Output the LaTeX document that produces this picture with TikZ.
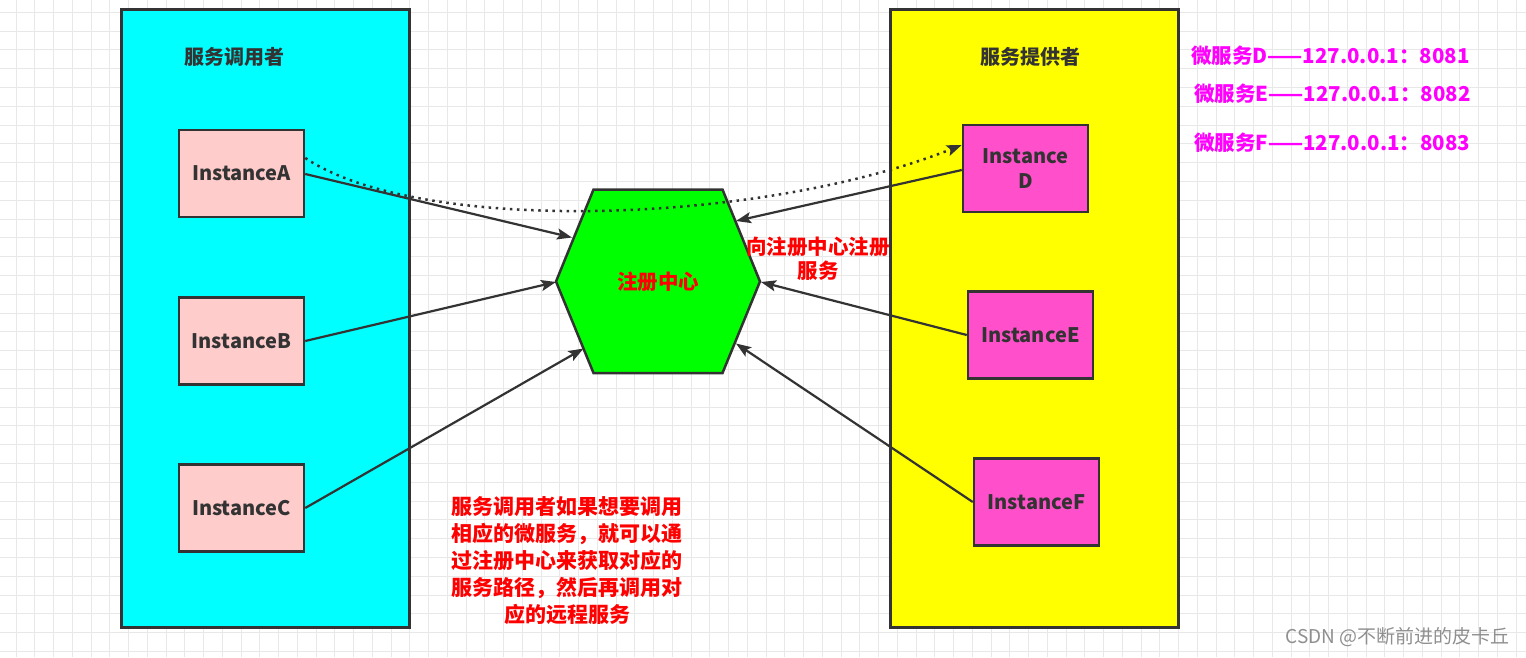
\documentclass[tikz,border=0pt]{standalone}
\usepackage{fontspec}
\setmainfont{Noto Sans CJK SC}
\usetikzlibrary{arrows.meta}
\definecolor{edgec}{HTML}{333333}
\definecolor{gridc}{HTML}{E8E8E8}
\definecolor{cyanc}{HTML}{00FFFF}
\definecolor{yellowc}{HTML}{FFFF00}
\definecolor{pinkc}{HTML}{FFCCCC}
\definecolor{magc}{HTML}{FF4FCB}
\definecolor{greenc}{HTML}{00FF00}
\definecolor{redc}{HTML}{FF0000}
\definecolor{purpc}{HTML}{FF00FF}
\definecolor{wmc}{HTML}{8F8F8F}
\begin{document}
\begin{tikzpicture}[x=1pt,y=-1pt,
  group/.style={draw=edgec,line width=2.5pt,anchor=north west,inner sep=0pt},
  inst/.style={draw=edgec,line width=2.5pt,minimum width=125pt,minimum height=87pt,inner sep=0pt,
    font=\fontsize{20}{25}\selectfont\bfseries,text=edgec,align=center},
  title/.style={font=\fontsize{20}{24}\selectfont\bfseries,text=edgec},
  redtxt/.style={font=\fontsize{20.5}{24}\selectfont\bfseries,text=redc,align=center},
  addr/.style={font=\fontsize{20.5}{24}\selectfont\bfseries,text=purpc,anchor=west,inner sep=0pt},
  conn/.style={draw=edgec,line width=2.2pt,-{Stealth[length=15pt,width=11pt,inset=3pt]}}
]
\useasboundingbox (0,0) rectangle (1526,657);
\fill[white] (0,0) rectangle (1526,657);
\foreach \i in {0,...,81} \draw[gridc,line width=1pt] ({16+18.75*\i},0) -- ++(0,657);
\foreach \j in {0,...,34} \draw[gridc,line width=1pt] (0,{12.3+18.8*\j}) -- ++(1526,0);

% groups
\node[group,fill=cyanc,minimum width=288pt,minimum height=618pt] (L) at (120,8) {};
\node[group,fill=yellowc,minimum width=288pt,minimum height=618pt] (R) at (889,8) {};
\node[title] (Lt) at (234,57) {服务调用者};
\node[title] (Rt) at (1030,57) {服务提供者};

% instances
\node[inst,fill=pinkc] (A) at (241.5,173.5) {InstanceA};
\node[inst,fill=pinkc] (B) at (241.5,341) {InstanceB};
\node[inst,fill=pinkc] (C) at (241.5,508) {InstanceC};
\node[inst,fill=magc] (D) at (1025.5,168.5) {Instance\\D};
\node[inst,fill=magc] (E) at (1030.5,335) {InstanceE};
\node[inst,fill=magc] (F) at (1036.5,502) {InstanceF};

% hexagon
\coordinate (h1) at (593.5,189.5);
\coordinate (h2) at (722.5,189.5);
\coordinate (h3) at (760,281.5);
\coordinate (h4) at (722.5,373);
\coordinate (h5) at (593.5,373);
\coordinate (h6) at (556,281.5);
\draw[draw=edgec,fill=greenc,line width=2.5pt,line join=miter] (h1)--(h2)--(h3)--(h4)--(h5)--(h6)--cycle;
\node[redtxt] (H) at (658,282) {注册中心};

% arrow end points on hexagon
\coordinate (ea) at (572,237.5);
\coordinate (eb) at (556,282);
\coordinate (ec) at (583.5,348.5);
\coordinate (ed) at (736,221);
\coordinate (ee) at (761,282);
\coordinate (ef) at (736,343.5);

\draw[conn] (A.east |- 0,174) -- (ea);
\draw[conn] (B.east) -- (eb);
\draw[conn] (C.east) -- (ec);
\draw[conn] (D.west |- 0,170) -- (ed);
\draw[conn] (E.west) -- (ee);
\draw[conn] (F.west) -- (ef);

% dotted call path
\draw[draw=edgec,line width=2.5pt,dash pattern=on 2.5pt off 4.6pt,-{Stealth[length=15pt,width=11pt,inset=3pt]}]
  (A.east |- 0,158) .. controls (420,235) and (760,225) .. (D.west |- 0,145);

% labels
\node[redtxt] (reg) at (818,259) {向注册中心注册\\服务};
\node[redtxt,font=\fontsize{21}{27}\selectfont\bfseries] (note) at (567,561)
  {服务调用者如果想要调用\\相应的微服务，就可以通\\过注册中心来获取对应的\\服务路径，然后再调用对\\应的远程服务};

\node[addr] (aD) at (1191,56) {微服务D——127.0.0.1：8081};
\node[addr] (aE) at (1194,94) {微服务E——127.0.0.1：8082};
\node[addr] (aF) at (1194,143) {微服务F——127.0.0.1：8083};

\node[font=\fontsize{19}{22}\selectfont,text=wmc,anchor=east,inner sep=0pt] (wm) at (1510,637) {CSDN @不断前进的皮卡丘};
\end{tikzpicture}
\end{document}
